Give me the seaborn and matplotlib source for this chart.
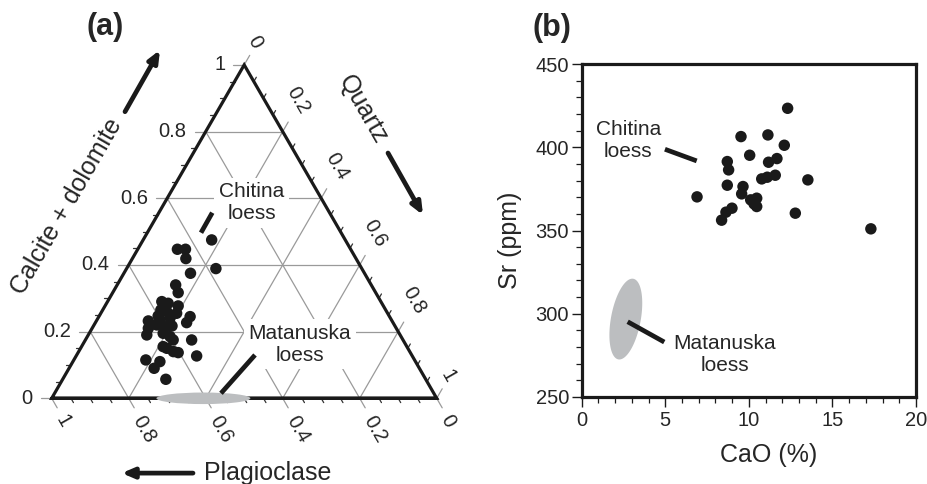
import numpy as np
import pandas as pd
import matplotlib
matplotlib.use("Agg")
import matplotlib.pyplot as plt
import seaborn as sns
from matplotlib.patches import Ellipse
from matplotlib.ticker import MultipleLocator

# ---------------- data ----------------
# Panel (a): ternary, Chitina loess samples (calcite+dolomite, quartz fractions)
tern_calcite = [0.475, 0.447, 0.447, 0.419, 0.389, 0.375, 0.340, 0.317, 0.290, 0.285,
                0.277, 0.265, 0.260, 0.255, 0.245, 0.232, 0.235, 0.227, 0.220, 0.215,
                0.210, 0.190, 0.195, 0.185, 0.175, 0.175, 0.155, 0.150, 0.140, 0.137,
                0.127, 0.115, 0.110, 0.090, 0.057, 0.241, 0.247, 0.217]
tern_quartz = [0.178, 0.103, 0.124, 0.139, 0.232, 0.173, 0.152, 0.170, 0.141, 0.160,
               0.190, 0.151, 0.169, 0.197, 0.237, 0.135, 0.164, 0.237, 0.163, 0.191,
               0.146, 0.152, 0.192, 0.215, 0.228, 0.276, 0.212, 0.224, 0.246, 0.260,
               0.313, 0.187, 0.226, 0.221, 0.268, 0.187, 0.153, 0.204]
# Matanuska loess field in (a): (quartz-axis centre, width, height) in triangle units
mat_a_field = {"x": 0.394, "y": 0.0, "w": 0.244, "h": 0.030}

# Panel (b): CaO (%) vs Sr (ppm), Chitina loess
cao = [12.32, 9.53, 11.14, 12.12, 10.05, 8.71, 11.18, 11.68, 8.79, 10.77,
       11.10, 11.58, 13.53, 8.71, 9.65, 9.57, 6.90, 10.11, 10.47, 10.47,
       10.31, 8.99, 8.63, 8.37, 12.78, 17.30]
sr = [423.4, 406.4, 407.4, 401.2, 395.2, 391.4, 391.0, 393.2, 386.4, 381.0,
      382.0, 383.2, 380.4, 377.2, 376.4, 372.0, 370.2, 368.4, 369.4, 364.4,
      366.0, 363.4, 361.0, 356.2, 360.4, 351.0]
# Matanuska loess field in (b)
mat_b_field = {"cx": 2.64, "cy": 296.8, "ax": 0.95, "bx": 0.25, "ay": 24.0, "by": 3.6}

left_ticks = ["0", "0.2", "0.4", "0.6", "0.8", "1"]
bottom_ticks = ["1", "0.8", "0.6", "0.4", "0.2", "0"]
right_ticks = ["0", "0.2", "0.4", "0.6", "0.8", "1"]

# ---------------- style ----------------
sns.set_style("white")
plt.rcParams["font.family"] = ["Liberation Sans", "DejaVu Sans"]

DOT = "#1a1a1a"
GRID = "#9a9a9a"
FIELD = "#bcbec0"
H = np.sqrt(3) / 2
PX = 1 / 385.0  # one pixel in triangle units

fig = plt.figure(figsize=(9.27, 4.84), dpi=100)

# ---------------- panel (a) ----------------
ax = fig.add_axes([0, 0, 480 / 927, 1])
XL = (-51.7 * PX, (480 - 51.7) * PX)
YL = (-85.7 * PX, (484 - 85.7) * PX)
ax.axis("off")

def tp(c, q):
    return q + c / 2.0, c * H

levels = [0.2, 0.4, 0.6, 0.8]
for v in levels:
    x0, y0 = tp(v, 0)
    x1, y1 = tp(v, 1 - v)
    ax.plot([x0, x1], [y0, y1], color=GRID, lw=0.9, zorder=1)
    x0, y0 = tp(0, v)
    x1, y1 = tp(1 - v, v)
    ax.plot([x0, x1], [y0, y1], color=GRID, lw=0.9, zorder=1)
    k = 1 - v
    x0, y0 = tp(0, k)
    x1, y1 = tp(k, 0)
    ax.plot([x0, x1], [y0, y1], color=GRID, lw=0.9, zorder=1)

# triangle frame
ax.plot([0, 1, 0.5, 0, 1], [0, 0, H, 0, 0], color="#1a1a1a", lw=2.3, zorder=3,
        solid_joinstyle="miter")

d_down = np.array([0.5, -H])
d_up = np.array([0.5, H])
d_left = np.array([-1.0, 0.0])

fs_tick = 14.5
for i in range(21):
    v = i * 0.05
    major = (i % 4 == 0)
    L = (11 if major else 5) * PX
    col = GRID if major else "#333333"
    p = np.array(tp(v, 0))
    q = p + d_left * L
    ax.plot([p[0], q[0]], [p[1], q[1]], color=col, lw=0.9, zorder=2)
    p = np.array([v, 0.0])
    q = p + d_down * L
    ax.plot([p[0], q[0]], [p[1], q[1]], color=col, lw=0.9, zorder=2)
    p = np.array(tp(1 - v, v))
    q = p + d_up * L
    ax.plot([p[0], q[0]], [p[1], q[1]], color=col, lw=0.9, zorder=2)

for i, lab in enumerate(left_ticks):
    v = i * 0.2
    x, y = tp(v, 0)
    ax.text(x - 19 * PX, y, lab, ha="right", va="center", fontsize=fs_tick)
for i, lab in enumerate(bottom_ticks):
    v = i * 0.2
    d = (20 + 5 * len(lab)) * PX
    dirv = np.array([np.cos(np.radians(-64)), np.sin(np.radians(-64))])
    p = np.array([v, 0.0]) + dirv * d
    ax.text(p[0], p[1], lab, ha="center", va="center", rotation=-60, fontsize=fs_tick)
for i, lab in enumerate(right_ticks):
    v = i * 0.2
    d = (20 + 5 * len(lab)) * PX
    dirv = np.array([np.cos(np.radians(64)), np.sin(np.radians(64))])
    p = np.array(tp(1 - v, v)) + dirv * d
    ax.text(p[0], p[1], lab, ha="center", va="center", rotation=-60, fontsize=fs_tick)

# points
xs, ys = zip(*[tp(c, q) for c, q in zip(tern_calcite, tern_quartz)])
df_a = pd.DataFrame({"x": xs, "y": ys})
sns.scatterplot(data=df_a, x="x", y="y", ax=ax, s=68, color=DOT, edgecolor="none",
                linewidth=0, zorder=6, legend=False)
ax.set_xlim(*XL)
ax.set_ylim(*YL)

ax.add_patch(Ellipse((mat_a_field["x"], mat_a_field["y"]), mat_a_field["w"], mat_a_field["h"],
                     facecolor=FIELD, edgecolor="none", zorder=4))

bbox = dict(boxstyle="square,pad=0.22", facecolor="white", edgecolor="none")
fs_ann = 15
ax.text(0.5195, 0.508, "Chitina\nloess", ha="center", va="center", fontsize=fs_ann,
        linespacing=1.2, bbox=bbox, zorder=5)
ax.text(0.6449, 0.141, "Matanuska\nloess", ha="center", va="center", fontsize=fs_ann,
        linespacing=1.2, bbox=bbox, zorder=5)
ax.plot([0.3878, 0.4171], [0.4301, 0.4821], color=DOT, lw=3.4, solid_capstyle="butt", zorder=6)
ax.plot([0.4397, 0.5281], [0.0130, 0.1125], color=DOT, lw=3.4, solid_capstyle="butt", zorder=6)

fs_lab = 18
ax.text(0.039, 0.4977, "Calcite + dolomite", ha="center", va="center", rotation=60, fontsize=fs_lab)
ax.text(0.8086, 0.7488, "Quartz", ha="center", va="center", rotation=-60, fontsize=fs_lab)
ax.text(0.5618, -0.1943, "Plagioclase", ha="center", va="center", fontsize=fs_lab)
arrow = dict(arrowstyle="-|>,head_length=0.7,head_width=0.3", color=DOT, lw=3.4,
             shrinkA=0, shrinkB=0)
ax.annotate("", xy=(0.2813, 0.9047), xytext=(0.1904, 0.7444), arrowprops=arrow)
ax.annotate("", xy=(0.9644, 0.4761), xytext=(0.8735, 0.6371), arrowprops=arrow)
ax.annotate("", xy=(0.1818, -0.1943), xytext=(0.367, -0.1943), arrowprops=arrow)

fig.text(105 / 927, 1 - 27 / 484, "(a)", ha="center", va="center", fontsize=22, fontweight="bold")
fig.text(551.7 / 927, 1 - 28.3 / 484, "(b)", ha="center", va="center", fontsize=22, fontweight="bold")

# ---------------- panel (b) ----------------
bx = fig.add_axes([581.7 / 927, 1 - 397 / 484, (916 - 581.7) / 927, (397 - 64) / 484])
df_b = pd.DataFrame({"CaO": cao, "Sr": sr})
sns.scatterplot(data=df_b, x="CaO", y="Sr", ax=bx, s=68, color=DOT, edgecolor="none",
                linewidth=0, zorder=5, legend=False)
t = np.linspace(0, 2 * np.pi, 200)
ex = mat_b_field["cx"] + mat_b_field["ax"] * np.cos(t) + mat_b_field["bx"] * np.sin(t)
ey = mat_b_field["cy"] + mat_b_field["ay"] * np.sin(t) + mat_b_field["by"] * np.cos(t)
bx.fill(ex, ey, color=FIELD, lw=0, zorder=2)
bx.plot([2.75, 4.94], [295.2, 283.0], color=DOT, lw=3.4, solid_capstyle="butt", zorder=4)
bx.plot([4.98, 6.88], [398.8, 391.8], color=DOT, lw=3.4, solid_capstyle="butt", zorder=4)
bx.text(2.79, 403.8, "Chitina\nloess", ha="center", va="center", fontsize=fs_ann, linespacing=1.2)
bx.text(8.57, 275.4, "Matanuska\nloess", ha="center", va="center", fontsize=fs_ann, linespacing=1.2)

bx.set_xlim(0, 20)
bx.set_ylim(250, 450)
bx.set_xticks([0, 5, 10, 15, 20])
bx.set_yticks([250, 300, 350, 400, 450])
bx.xaxis.set_minor_locator(MultipleLocator(1))
bx.yaxis.set_minor_locator(MultipleLocator(10))
bx.tick_params(which="major", direction="out", length=7, width=1.0, labelsize=fs_tick,
               color="#1a1a1a", bottom=True, left=True, pad=3)
bx.tick_params(which="minor", direction="out", length=4, width=0.9, color="#1a1a1a",
               bottom=True, left=True)
bx.tick_params(axis="y", pad=2)
for s in bx.spines.values():
    s.set_linewidth(2.3)
    s.set_color("#1a1a1a")
bx.set_xlabel("CaO (%)", fontsize=fs_lab)
bx.set_ylabel("Sr (ppm)", fontsize=fs_lab)
bx.xaxis.set_label_coords(0.558, -0.174)
bx.xaxis.label.set_va("center")
bx.yaxis.set_label_coords(-0.2145, 0.4715)
bx.yaxis.label.set_va("center")
bx.grid(False)

fig.savefig("out.png", dpi=100)
